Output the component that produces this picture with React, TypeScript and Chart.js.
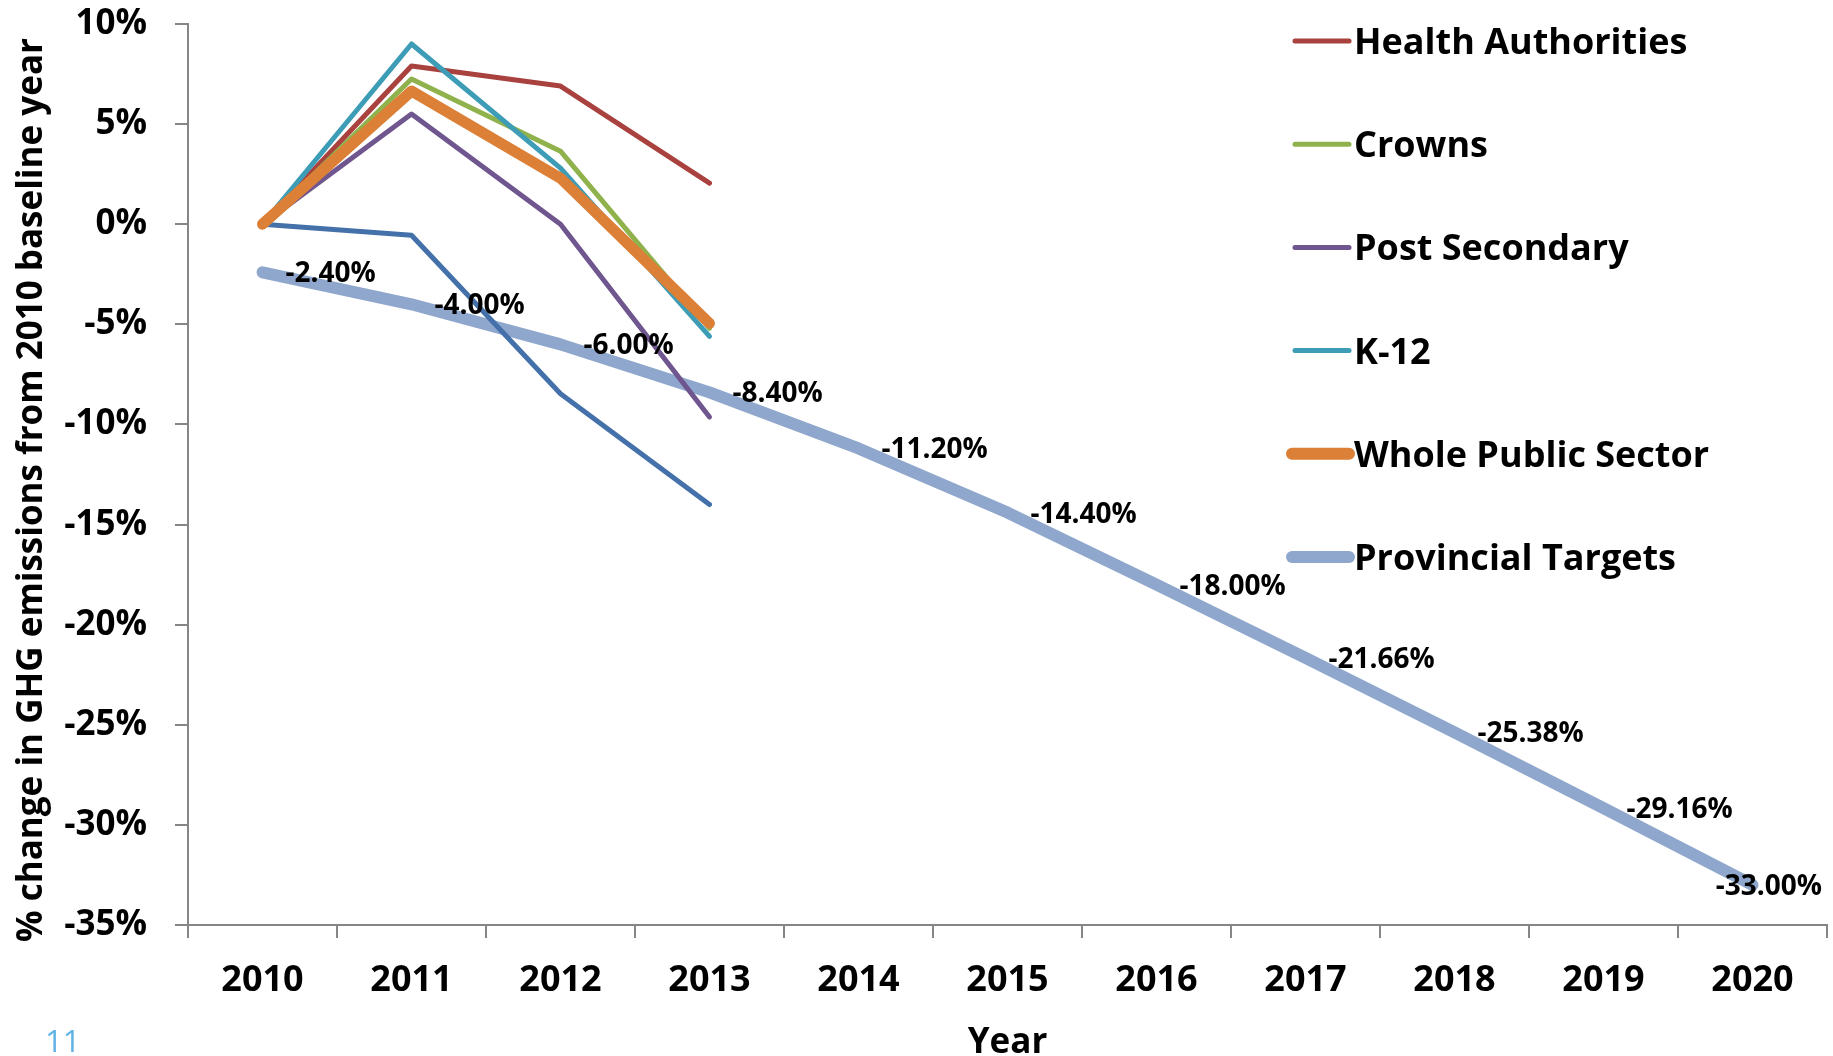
import React, { useEffect, useRef } from 'react';
import { Chart, registerables } from 'chart.js';

Chart.register(...registerables);

// ---------- data ----------
const years = ['2010', '2011', '2012', '2013', '2014', '2015', '2016', '2017', '2018', '2019', '2020'];

const healthAuthorities = [0, 7.9, 6.9, 2.05, null, null, null, null, null, null, null];
const crowns = [0, 7.25, 3.65, -5.2, null, null, null, null, null, null, null];
const postSecondary = [0, 5.5, 0.0, -9.63, null, null, null, null, null, null, null];
const k12 = [0, 9.0, 2.8, -5.6, null, null, null, null, null, null, null];
const wholePublicSector = [0, 6.65, 2.3, -4.95, null, null, null, null, null, null, null];
const unlabelledSeries = [0, -0.55, -8.47, -14.0, null, null, null, null, null, null, null];
const provincialTargets = [-2.4, -4.0, -6.0, -8.4, -11.2, -14.4, -18.0, -21.66, -25.38, -29.16, -33.0];

const yMin = -35;
const yMax = 10;
const yStep = 5;

const yAxisTitle = '% change in GHG emissions from 2010 baseline year';
const xAxisTitle = 'Year';
const slideNumber = '11';

const FONT = '"Open Sans", "DejaVu Sans", sans-serif';
const AXIS_GREY = '#868686';

const overlayPlugin = {
  id: 'overlay',
  afterDatasetsDraw(chart: any) {
    const ctx = chart.ctx;
    const area = chart.chartArea;
    const idx = chart.data.datasets.findIndex((d: any) => d.label === 'Provincial Targets');
    const meta = chart.getDatasetMeta(idx);
    ctx.save();
    ctx.font = `bold 28px ${FONT}`;
    ctx.fillStyle = '#000';
    ctx.textBaseline = 'alphabetic';
    ctx.textAlign = 'left';
    meta.data.forEach((pt: any, i: number) => {
      const v = chart.data.datasets[idx].data[i];
      if (v === null || v === undefined) return;
      const text = Number(v).toFixed(2) + '%';
      const w = ctx.measureText(text).width;
      let x = pt.x + 23;
      if (x + w > area.right) x = area.right - w - 5;
      ctx.fillText(text, x, pt.y + 10);
    });
    ctx.restore();
  },
  afterDraw(chart: any) {
    const ctx = chart.ctx;
    ctx.save();
    const items = chart.data.datasets
      .map((d: any, i: number) => ({ d, i }))
      .filter((o: any) => o.d.label && o.d.label.length > 0);
    items.forEach((o: any, k: number) => {
      const y = 41 + k * 103.2;
      ctx.beginPath();
      ctx.lineCap = 'round';
      ctx.strokeStyle = o.d.borderColor;
      const lw = o.d.borderWidth > 8 ? 12 : 5;
      ctx.lineWidth = lw;
      const x0 = lw > 8 ? 1292 : 1295;
      ctx.moveTo(x0, y);
      ctx.lineTo(1349, y);
      ctx.stroke();
      ctx.font = `bold 36px ${FONT}`;
      ctx.fillStyle = '#000';
      ctx.textAlign = 'left';
      ctx.textBaseline = 'alphabetic';
      ctx.fillText(o.d.label, 1354, y + 13);
    });
    ctx.font = `bold 35px ${FONT}`;
    ctx.fillStyle = '#000';
    ctx.textAlign = 'center';
    ctx.textBaseline = 'alphabetic';
    ctx.fillText(xAxisTitle, (chart.chartArea.left + chart.chartArea.right) / 2, 1053);
    ctx.save();
    ctx.translate(42, 490);
    ctx.rotate(-Math.PI / 2);
    ctx.fillText(yAxisTitle, 0, 0);
    ctx.restore();
    ctx.font = `31px ${FONT}`;
    ctx.fillStyle = '#62B3E5';
    ctx.textAlign = 'left';
    ctx.fillText(slideNumber, 45, 1052);
    ctx.restore();
  },
};

function thin(label: string, data: (number | null)[], color: string, order: number) {
  return {
    label,
    data,
    borderColor: color,
    backgroundColor: color,
    borderWidth: 5,
    pointRadius: 0,
    pointHoverRadius: 0,
    tension: 0,
    borderCapStyle: 'round',
    borderJoinStyle: 'round',
    spanGaps: false,
    order,
  };
}

export default function App() {
  const ref = useRef<HTMLCanvasElement | null>(null);

  useEffect(() => {
    let chart: any = null;
    let cancelled = false;
    const make = () => {
      if (cancelled || !ref.current) return;
      chart = new Chart(ref.current, {
        type: 'line',
        data: {
          labels: years,
          datasets: [
            thin('Health Authorities', healthAuthorities, '#A9423F', 5),
            thin('Crowns', crowns, '#8FB24C', 4),
            thin('Post Secondary', postSecondary, '#6F568F', 3),
            thin('K-12', k12, '#3D9CB6', 2),
            { ...thin('Whole Public Sector', wholePublicSector, '#DC8037', 1), borderWidth: 11 },
            { ...thin('Provincial Targets', provincialTargets, '#8FA7CC', 10), borderWidth: 12 },
            thin('', unlabelledSeries, '#4471A9', 6),
          ] as any,
        },
        options: {
          responsive: false,
          animation: false,
          events: [],
          layout: { padding: { top: 24, right: 6, bottom: 0, left: 0 } },
          plugins: {
            legend: { display: false },
            tooltip: { enabled: false },
            title: { display: false },
          },
          scales: {
            x: {
              type: 'category',
              offset: true,
              grid: {
                offset: true,
                drawOnChartArea: false,
                drawTicks: true,
                tickLength: 13,
                color: AXIS_GREY,
                lineWidth: 2,
              },
              border: { display: true, color: AXIS_GREY, width: 2 },
              ticks: {
                font: { family: FONT, size: 36, weight: 'bold' },
                color: '#000',
                padding: 21,
                maxRotation: 0,
                autoSkip: false,
              },
              afterFit: (s: any) => {
                s.height = 131;
                s.paddingLeft = 0;
                s.paddingRight = 0;
              },
            },
            y: {
              min: yMin,
              max: yMax,
              grid: {
                drawOnChartArea: false,
                drawTicks: true,
                tickLength: 13,
                color: AXIS_GREY,
                lineWidth: 2,
              },
              border: { display: true, color: AXIS_GREY, width: 2 },
              ticks: {
                stepSize: yStep,
                callback: (v: any) => `${v}%`,
                font: { family: FONT, size: 35, weight: 'bold' },
                color: '#000',
                padding: 28,
              },
              afterFit: (s: any) => {
                s.width = 188;
                s.paddingTop = 0;
                s.paddingBottom = 0;
              },
            },
          },
        } as any,
        plugins: [overlayPlugin],
      });
    };
    const fonts: any = (document as any).fonts;
    if (fonts && fonts.load) {
      Promise.all([
        fonts.load(`bold 36px "Open Sans"`),
        fonts.load(`31px "Open Sans"`),
      ]).then(make, make);
    } else {
      make();
    }
    return () => {
      cancelled = true;
      if (chart) chart.destroy();
    };
  }, []);

  return (
    <div style={{ position: 'absolute', left: 0, top: 0, width: 1833, height: 1056, background: '#fff' }}>
      <canvas ref={ref} width={1833} height={1056} style={{ display: 'block' }} />
    </div>
  );
}
